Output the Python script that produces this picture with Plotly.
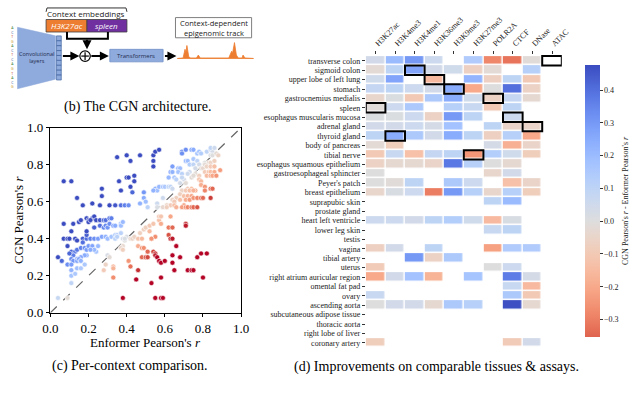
import plotly.graph_objects as go

# ---------------- data ----------------
# (c) per-context comparison: Enformer r (x) vs CGN r (y)
enformer_r = [
    0.07, 0.11, 0.14, 0.17, 0.22, 0.27, 0.27, 0.26, 0.31, 0.34, 0.37, 0.39, 0.35, 0.36, 0.37, 0.40,
    0.42, 0.40, 0.41, 0.44, 0.44, 0.42, 0.43, 0.41, 0.47, 0.49, 0.47, 0.54, 0.55, 0.57, 0.54, 0.54,
    0.49, 0.50, 0.51, 0.55, 0.56, 0.57, 0.59, 0.60, 0.62, 0.63, 0.54, 0.62, 0.63, 0.64, 0.64, 0.65,
    0.66, 0.67, 0.68, 0.67, 0.69, 0.69, 0.69, 0.71, 0.74, 0.75, 0.71, 0.72, 0.73, 0.75, 0.77, 0.78,
    0.79, 0.75, 0.77, 0.78, 0.76, 0.73, 0.72, 0.70, 0.68,
    0.82, 0.84, 0.85, 0.84, 0.86, 0.79, 0.80, 0.81, 0.71, 0.69, 0.59, 0.64, 0.56,
    0.84, 0.85, 0.87, 0.88, 0.83, 0.84, 0.86, 0.81, 0.82, 0.84, 0.86, 0.89, 0.81, 0.83, 0.84, 0.86,
    0.82, 0.84, 0.85, 0.87, 0.76, 0.78, 0.78, 0.79, 0.74, 0.75, 0.72, 0.74, 0.76, 0.79, 0.81, 0.81,
    0.84, 0.85, 0.69, 0.71, 0.73, 0.75, 0.68, 0.70, 0.72, 0.74, 0.71, 0.73, 0.75, 0.77, 0.79, 0.80,
    0.84, 0.66, 0.68, 0.64, 0.65, 0.61, 0.63, 0.65, 0.70, 0.66, 0.69, 0.71, 0.72, 0.74, 0.75, 0.77,
    0.59, 0.61, 0.56,
    0.07, 0.11, 0.12, 0.15, 0.16, 0.19, 0.20, 0.22, 0.23, 0.24, 0.26, 0.28, 0.29, 0.31, 0.32, 0.20,
    0.21, 0.23, 0.26, 0.28, 0.29, 0.30, 0.31, 0.33, 0.34, 0.37, 0.37, 0.38, 0.07, 0.09, 0.10, 0.09,
    0.13, 0.14, 0.17, 0.17, 0.19, 0.19, 0.19, 0.21, 0.23, 0.25, 0.27, 0.29, 0.30, 0.32, 0.34, 0.35,
    0.37, 0.11, 0.13, 0.14, 0.16, 0.18, 0.19, 0.20, 0.22, 0.25, 0.24, 0.23, 0.21, 0.19, 0.18, 0.16,
    0.14, 0.12, 0.10, 0.11, 0.12, 0.14, 0.15, 0.16, 0.04, 0.06, 0.09, 0.11, 0.11, 0.14, 0.16, 0.18,
    0.11, 0.13, 0.11,
    0.04, 0.30, 0.31, 0.34, 0.35, 0.38, 0.40,
    0.09, 0.29, 0.28, 0.33, 0.33, 0.39, 0.39, 0.38, 0.42, 0.43, 0.44, 0.46, 0.48, 0.47, 0.49, 0.50,
    0.52, 0.41, 0.42, 0.37, 0.38, 0.52, 0.53, 0.54, 0.57, 0.58, 0.55, 0.53, 0.57, 0.58, 0.63, 0.62,
    0.64, 0.62, 0.63, 0.64, 0.66, 0.71, 0.71, 0.46, 0.48, 0.49, 0.51, 0.54, 0.55, 0.48, 0.50, 0.51,
    0.55, 0.56, 0.57, 0.58, 0.60, 0.64, 0.64, 0.68, 0.65, 0.72, 0.74, 0.75, 0.77, 0.79, 0.82, 0.46,
    0.45, 0.53, 0.58, 0.80, 0.33, 0.38, 0.55, 0.58, 0.59,
]
cgn_r = [
    0.71, 0.71, 0.62, 0.58, 0.59, 0.67, 0.63, 0.58, 0.58, 0.58, 0.58, 0.58, 0.84, 0.71, 0.66, 0.85,
    0.82, 0.73, 0.73, 0.74, 0.71, 0.68, 0.65, 0.58, 0.85, 0.65, 0.59, 0.85, 0.87, 0.88, 0.82, 0.79,
    0.62, 0.60, 0.57, 0.67, 0.66, 0.68, 0.68, 0.68, 0.68, 0.68, 0.66, 0.73, 0.76, 0.76, 0.79, 0.73,
    0.72, 0.78, 0.78, 0.76, 0.75, 0.87, 0.86, 0.88, 0.88, 0.88, 0.82, 0.82, 0.80, 0.80, 0.86, 0.87,
    0.86, 0.83, 0.82, 0.80, 0.78, 0.76, 0.75, 0.72, 0.70,
    0.87, 0.88, 0.87, 0.89, 0.89, 0.78, 0.78, 0.81, 0.70, 0.73, 0.62, 0.67, 0.59,
    0.85, 0.85, 0.86, 0.85, 0.81, 0.81, 0.82, 0.80, 0.79, 0.79, 0.79, 0.77, 0.76, 0.76, 0.76, 0.76,
    0.74, 0.74, 0.74, 0.74, 0.75, 0.74, 0.72, 0.71, 0.73, 0.74, 0.67, 0.67, 0.66, 0.69, 0.68, 0.66,
    0.67, 0.67, 0.66, 0.66, 0.66, 0.66, 0.64, 0.63, 0.63, 0.63, 0.61, 0.61, 0.62, 0.62, 0.62, 0.62,
    0.62, 0.62, 0.61, 0.61, 0.60, 0.58, 0.58, 0.58, 0.58, 0.57, 0.57, 0.57, 0.57, 0.57, 0.57, 0.57,
    0.57, 0.57, 0.57,
    0.48, 0.44, 0.48, 0.49, 0.50, 0.51, 0.50, 0.51, 0.52, 0.50, 0.50, 0.50, 0.50, 0.51, 0.51, 0.49,
    0.50, 0.46, 0.47, 0.46, 0.47, 0.46, 0.48, 0.47, 0.47, 0.48, 0.47, 0.49, 0.40, 0.40, 0.40, 0.36,
    0.40, 0.39, 0.40, 0.38, 0.40, 0.42, 0.44, 0.40, 0.40, 0.40, 0.41, 0.41, 0.40, 0.41, 0.42, 0.42,
    0.43, 0.33, 0.33, 0.34, 0.35, 0.35, 0.34, 0.36, 0.36, 0.36, 0.33, 0.34, 0.34, 0.31, 0.31, 0.30,
    0.29, 0.31, 0.32, 0.29, 0.28, 0.28, 0.29, 0.28, 0.30, 0.28, 0.26, 0.26, 0.23, 0.24, 0.24, 0.26,
    0.20, 0.21, 0.16,
    0.08, 0.31, 0.30, 0.40, 0.41, 0.40, 0.41,
    0.08, 0.26, 0.23, 0.25, 0.24, 0.39, 0.40, 0.36, 0.40, 0.40, 0.41, 0.40, 0.40, 0.43, 0.45, 0.46,
    0.47, 0.28, 0.25, 0.35, 0.34, 0.44, 0.40, 0.48, 0.50, 0.48, 0.41, 0.40, 0.52, 0.52, 0.52, 0.46,
    0.46, 0.42, 0.40, 0.40, 0.36, 0.48, 0.47, 0.36, 0.35, 0.35, 0.33, 0.33, 0.32, 0.30, 0.30, 0.30,
    0.31, 0.30, 0.28, 0.27, 0.28, 0.31, 0.27, 0.30, 0.23, 0.23, 0.23, 0.23, 0.30, 0.32, 0.32, 0.23,
    0.18, 0.16, 0.19, 0.19, 0.19, 0.08, 0.08, 0.08, 0.08,
]

# (d) CGN r - Enformer r per tissue / assay (None = not available)
assays = ["H3K27ac", "H3K4me3", "H3K4me1", "H3K36me3", "H3K9me3",
          "H3K27me3", "POLR2A", "CTCF", "DNase", "ATAC"]
tissues = [
    "transverse colon", "sigmoid colon", "upper lobe of left lung", "stomach",
    "gastrocnemius medialis", "spleen", "esophagus muscularis mucosa", "adrenal gland",
    "thyroid gland", "body of pancreas", "tibial nerve", "esophagus squamous epithelium",
    "gastroesophageal sphincter", "Peyer's patch", "breast epithelium", "suprapubic skin",
    "prostate gland", "heart left ventricle", "lower leg skin", "testis", "vagina",
    "tibial artery", "uterus", "right atrium auricular region", "omental fat pad", "ovary",
    "ascending aorta", "subcutaneous adipose tissue", "thoracic aorta", "right lobe of liver",
    "coronary artery",
]
N = None
improvement = [
    [0.04, 0.20, 0.30, 0.06, N, 0.14, -0.28, -0.32, -0.01, N],
    [-0.02, 0.10, 0.27, 0.04, 0.05, -0.07, -0.02, N, 0.12, N],
    [0.05, 0.27, N, -0.15, N, 0.22, -0.07, 0.10, -0.10, N],
    [0.08, 0.10, 0.06, 0.04, 0.25, -0.20, 0.00, 0.40, -0.06, N],
    [-0.04, 0.01, -0.10, 0.15, 0.25, 0.05, -0.06, 0.08, -0.03, N],
    [-0.01, 0.06, 0.15, N, 0.12, 0.07, -0.10, 0.10, N, N],
    [0.01, 0.01, 0.06, -0.06, 0.30, 0.10, N, 0.06, N, N],
    [0.04, 0.04, 0.06, 0.03, 0.18, N, 0.10, -0.05, -0.05, N],
    [0.10, 0.25, 0.15, 0.04, 0.25, 0.10, -0.07, 0.12, -0.20, N],
    [-0.02, -0.08, N, N, N, N, 0.03, -0.18, -0.05, N],
    [-0.10, 0.07, -0.13, 0.08, 0.10, -0.25, 0.13, 0.05, -0.08, N],
    [-0.06, -0.03, -0.03, -0.05, 0.38, 0.12, 0.00, -0.03, N, N],
    [0.00, N, N, N, N, N, -0.04, 0.04, N, N],
    [0.00, -0.01, 0.10, N, 0.15, 0.06, N, -0.13, -0.05, N],
    [-0.04, 0.02, 0.06, -0.30, 0.30, 0.12, -0.04, 0.12, -0.08, N],
    [N, N, N, N, N, N, 0.10, 0.20, N, N],
    [N, N, N, N, N, N, N, N, N, N],
    [0.06, 0.06, 0.04, 0.10, 0.13, 0.05, -0.15, 0.02, N, N],
    [N, N, N, N, N, N, 0.07, 0.10, N, N],
    [N, N, N, N, N, N, N, N, N, N],
    [-0.07, 0.04, N, 0.10, N, N, -0.22, 0.14, 0.14, N],
    [N, N, 0.30, -0.06, 0.15, N, N, N, N, N],
    [-0.09, N, N, N, N, N, 0.00, 0.06, N, N],
    [-0.20, 0.04, 0.18, -0.17, N, 0.17, N, 0.37, 0.03, N],
    [N, N, N, N, N, N, N, 0.07, -0.15, N],
    [0.07, N, N, N, N, N, N, 0.15, -0.10, N],
    [0.00, 0.04, 0.04, -0.03, 0.15, 0.12, N, 0.47, -0.03, N],
    [N, N, N, N, N, N, N, N, N, N],
    [N, N, N, N, N, N, N, N, N, N],
    [N, N, N, N, N, N, N, N, N, N],
    [-0.08, N, N, N, N, N, N, -0.09, 0.04, N],
]
held_out = [
    ("transverse colon", "ATAC"), ("sigmoid colon", "H3K4me1"),
    ("upper lobe of left lung", "H3K36me3"), ("stomach", "H3K9me3"),
    ("gastrocnemius medialis", "POLR2A"), ("spleen", "H3K27ac"),
    ("esophagus muscularis mucosa", "CTCF"), ("adrenal gland", "DNase"),
    ("thyroid gland", "H3K4me3"), ("tibial nerve", "H3K27me3"),
]
cbar_ticks = [-0.3, -0.2, -0.1, 0.0, 0.1, 0.2, 0.3, 0.4]
axis_ticks = [0.0, 0.2, 0.4, 0.6, 0.8, 1.0]

# ---------------- helpers ----------------
W, H = 640, 396


def px(x):
    return x / W


def py(y):
    return 1 - y / H


# matplotlib coolwarm
CW = [(59, 76, 192), (68, 90, 204), (77, 104, 215), (87, 117, 225), (98, 130, 234),
      (108, 142, 241), (119, 154, 247), (130, 165, 251), (141, 176, 254), (152, 185, 255),
      (163, 194, 255), (174, 201, 253), (184, 208, 249), (194, 213, 244), (204, 217, 238),
      (213, 219, 230), (221, 221, 221), (229, 216, 209), (236, 211, 197), (241, 204, 185),
      (245, 196, 173), (247, 187, 160), (247, 177, 148), (247, 166, 135), (244, 154, 123),
      (241, 141, 111), (236, 127, 99), (229, 112, 88), (222, 96, 77), (213, 80, 66),
      (203, 62, 56), (192, 40, 47), (180, 4, 38)]


def coolwarm(p):
    p = min(max(p, 0.0), 1.0) * 32
    i = min(int(p), 31)
    f = p - i
    a, b = CW[i], CW[i + 1]
    return "rgb(%d,%d,%d)" % tuple(round(a[k] + (b[k] - a[k]) * f) for k in range(3))


SERIF = "Liberation Serif"
SANS = "Open Sans"

# seaborn-style centred colormap for the heatmap
ZMIN, ZMAX = -0.353, 0.477
heat_scale = []
for t in range(41):
    v = ZMIN + (ZMAX - ZMIN) * t / 40
    heat_scale.append([t / 40, coolwarm(0.5 - v / (2 * ZMAX))])
scatter_scale = [[t / 32, coolwarm(1 - t / 32)] for t in range(33)]

fig = go.Figure()

# ---- (c) scatter ----
fig.add_trace(go.Scatter(
    x=[0, 1], y=[0, 1], mode="lines",
    line=dict(color="#666666", width=1.2, dash="dash"),
    xaxis="x", yaxis="y", showlegend=False, hoverinfo="skip"))
fig.add_trace(go.Scatter(
    x=enformer_r, y=cgn_r, mode="markers",
    marker=dict(size=5, color=[c - e for c, e in zip(cgn_r, enformer_r)],
                colorscale=scatter_scale, cmin=-0.25, cmax=0.25,
                line=dict(color="white", width=0.6)),
    xaxis="x", yaxis="y", showlegend=False))

# ---- (d) heatmap ----
fig.add_trace(go.Heatmap(
    z=improvement, x=assays, y=tissues, xaxis="x2", yaxis="y2",
    colorscale=heat_scale, zmin=ZMIN, zmax=ZMAX, xgap=1.5, ygap=1.5,
    hoverongaps=False,
    colorbar=dict(
        x=px(596), xanchor="left", y=py(201.5), yanchor="middle",
        len=303 / H, lenmode="fraction", thickness=15, outlinewidth=0,
        ticks="outside", ticklen=3, tickcolor="#333",
        tickvals=cbar_ticks,
        ticktext=[("%.1f" % v).replace("-", "\u2212") for v in cbar_ticks],
        tickfont=dict(family=SERIF, size=8, color="#222"),
        title=dict(text="CGN Pearson's <i>r</i> - Enformer Pearson's <i>r</i>",
                   side="right", font=dict(family=SERIF, size=8, color="#222")),
    )))

shapes = []
for tissue, assay in held_out:
    r, c = tissues.index(tissue), assays.index(assay)
    shapes.append(dict(type="rect", xref="x2", yref="y2", x0=c - 0.5, x1=c + 0.5,
                       y0=r - 0.5, y1=r + 0.5, line=dict(color="black", width=2)))

# ---- (b) architecture sketch ----
def path(points, close=True):
    s = "M " + " L ".join("%.5f,%.5f" % (px(a), py(b)) for a, b in points)
    return s + (" Z" if close else "")


blue = "#8faadc"
shapes += [
    # bracket above context embeddings
    dict(type="path", xref="paper", yref="paper",
         path=path([(40, 5), (41, 1), (124, 1), (125, 5)], close=False),
         line=dict(color="#333", width=1)),
    # embedding boxes
    dict(type="rect", xref="paper", yref="paper", x0=px(40), x1=px(83), y0=py(26), y1=py(13),
         fillcolor="#ed7d31", line=dict(color="#404040", width=0.8)),
    dict(type="rect", xref="paper", yref="paper", x0=px(83), x1=px(125), y0=py(26), y1=py(13),
         fillcolor="#7030a0", line=dict(color="#404040", width=0.8)),
    dict(type="path", xref="paper", yref="paper",
         path=path([(62, 26), (62, 33), (105, 33), (105, 26)], close=False),
         line=dict(color="black", width=2)),
    # conv trapezoid
    dict(type="path", xref="paper", yref="paper",
         path=path([(10, 21), (50, 30), (50, 75), (10, 85)]),
         fillcolor=blue, line=dict(color=blue, width=0.5)),
    # transformers box
    dict(type="rect", xref="paper", yref="paper", x0=px(107), x1=px(163), y0=py(57), y1=py(44),
         fillcolor=blue, line=dict(color="#6f8fc8", width=0.8)),
    # plus circle
    dict(type="circle", xref="paper", yref="paper", x0=px(75.5), x1=px(86.5),
         y0=py(56.5), y1=py(45.5), fillcolor="white", line=dict(color="black", width=1.2)),
    dict(type="line", xref="paper", yref="paper", x0=px(77), x1=px(85), y0=py(51), y1=py(51),
         line=dict(color="black", width=1.2)),
    dict(type="line", xref="paper", yref="paper", x0=px(81), x1=px(81), y0=py(47), y1=py(55),
         line=dict(color="black", width=1.2)),
    # output track box
    dict(type="rect", xref="paper", yref="paper", x0=px(176), x1=px(256), y0=py(32), y1=py(11),
         fillcolor="white", line=dict(color="#7f7f7f", width=1)),
    # epigenomic track
    dict(type="path", xref="paper", yref="paper",
         path=path([(178, 53.5), (184, 53), (186, 44), (187, 47), (188, 40), (190, 52),
                    (192, 53), (198, 53), (200, 50), (202, 53), (232, 53), (235, 46),
                    (236, 48), (238, 37), (240, 50), (242, 53), (246, 53), (247, 50),
                    (249, 53), (258, 53.5)]),
         fillcolor="#ed7d31", line=dict(color="#ed7d31", width=0.8)),
]
for k in range(9):
    y0 = 30 + k * 5.1
    shapes.append(dict(type="rect", xref="paper", yref="paper", x0=px(51), x1=px(56),
                       y0=py(y0 + 5.1), y1=py(y0), fillcolor=blue,
                       line=dict(color="#2f5597", width=0.6)))

annotations = []


def text(x, y, s, size, family=SERIF, color="black", **kw):
    annotations.append(dict(x=px(x), y=py(y), xref="paper", yref="paper", text=s,
                            showarrow=False, font=dict(family=family, size=size, color=color),
                            xanchor="center", yanchor="middle", **kw))


def arrow(x0, y0, x1, y1):
    annotations.append(dict(x=px(x1), y=py(y1), xref="paper", yref="paper",
                            ax=x0 - x1, ay=y0 - y1, axref="pixel", ayref="pixel",
                            showarrow=True, arrowhead=2, arrowsize=0.9, arrowwidth=2,
                            arrowcolor="black", text=""))


text(82, 7, "Context embeddings", 8, SANS, "#222")
text(61.5, 19.5, "<i>H3K27ac</i>", 8, SANS, "white")
text(104, 19.5, "<i>spleen</i>", 8, SANS, "white")
text(30, 53, "Convolutional<br>layers", 5.5, SANS, "#1f2d50")
text(135, 50.5, "Transformers", 6, SANS, "#1f2d50")
text(216, 21.5, "Context-dependent<br>epigenomic track", 7.5, SANS, "#222")
dna = "ACTGACTCAGTACG"
dna_cols = {"A": "#3a7d3a", "C": "#2f5597", "T": "#c0392b", "G": "#c08a00"}
text(5, 52, "<br>".join("<span style='color:%s'>%s</span>" % (dna_cols[b], b) for b in dna),
     3.5, SANS)
arrow(83, 33, 83, 44)
arrow(57, 51, 75, 51)
arrow(87, 51, 106, 51)
arrow(164, 51, 177, 51)

# captions and scatter axis titles
text(136, 104, "(b) The CGN architecture.", 14)
text(128, 373, "(c) Per-context comparison.", 14)
text(450, 374, "(d) Improvements on comparable tissues &amp; assays.", 14)
text(145, 349, "Enformer Pearson's <i>r</i>", 13)
text(11, 221, "CGN Pearson's <i>r</i>", 13, textangle=-90)

axis_common = dict(showgrid=False, zeroline=False, showline=True, mirror=True,
                   linecolor="black", linewidth=1, ticks="outside", ticklen=3.5,
                   tickcolor="black", tickfont=dict(family=SERIF, size=13, color="black"),
                   tickvals=axis_ticks, ticktext=["%.1f" % v for v in axis_ticks])

fig.update_layout(
    width=W, height=H, margin=dict(l=0, r=0, t=0, b=0),
    paper_bgcolor="white", plot_bgcolor="white", showlegend=False,
    xaxis=dict(domain=[px(44.5), px(245)], range=[0, 1], anchor="y", **axis_common),
    yaxis=dict(domain=[py(317.8), py(125.3)], range=[0, 1], anchor="x", **axis_common),
    xaxis2=dict(domain=[px(376), px(582)], anchor="y2", side="top", range=[-0.5, 9.5],
                categoryorder="array", categoryarray=assays,
                tickmode="linear", tick0=0, dtick=1,
                showgrid=False, zeroline=False, showline=False, ticks="outside", ticklen=3,
                tickcolor="#333", tickangle=-45,
                tickfont=dict(family=SERIF, size=8, color="#222")),
    yaxis2=dict(domain=[py(354), py(50)], anchor="x2", autorange="reversed",
                categoryorder="array", categoryarray=tissues,
                tickmode="linear", tick0=0, dtick=1,
                showgrid=False, zeroline=False, showline=False, ticks="outside", ticklen=3,
                tickcolor="#333", tickfont=dict(family=SERIF, size=8, color="#222")),
    shapes=shapes, annotations=annotations,
)

fig.write_html("out.html", config={"displayModeBar": False},
               post_script="document.body.style.margin='0';")
